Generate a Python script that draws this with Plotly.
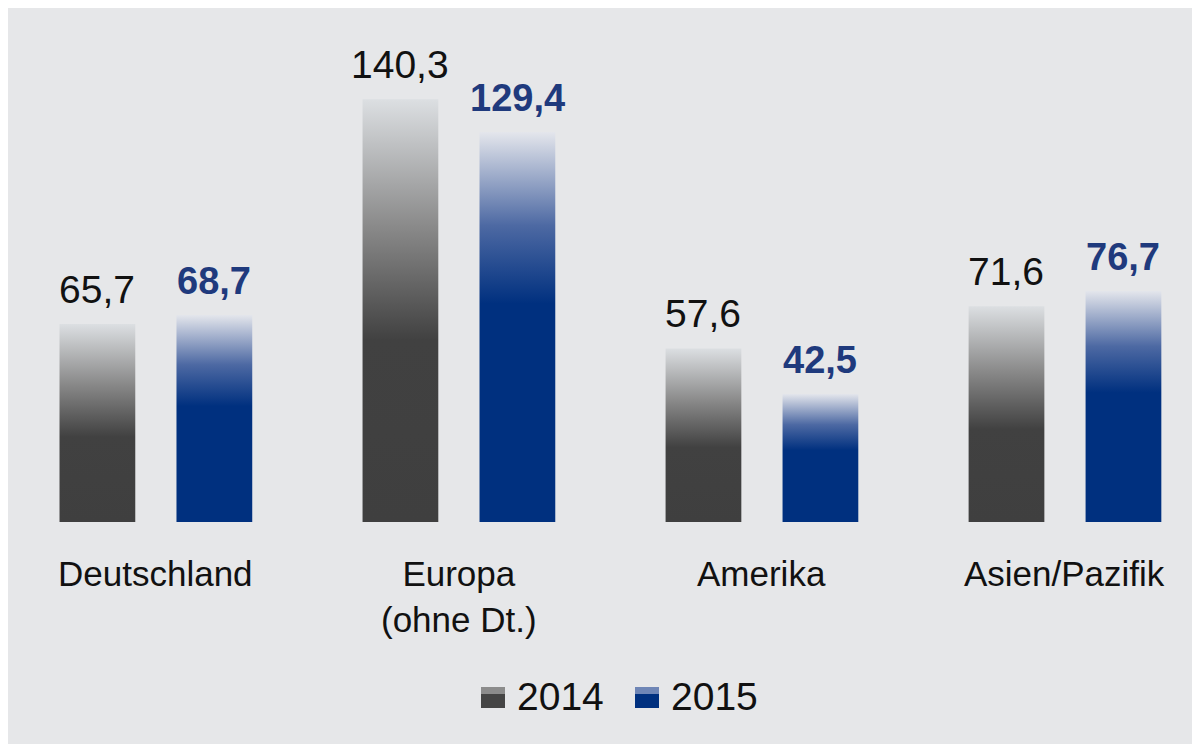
"""Grouped bar chart with gradient bars: 2014 vs 2015 by region."""

import plotly.graph_objects as go

# Data
regions = ["Deutschland", "Europa<br>(ohne Dt.)", "Amerika", "Asien/Pazifik"]
values_2014 = [65.7, 140.3, 57.6, 71.6]
values_2015 = [68.7, 129.4, 42.5, 76.7]
years = ["2014", "2015"]

# Styling
FONT = "Liberation Sans, Arial, sans-serif"
GRAY_SCALE = [[0, "#3f3f3f"], [0.43, "#414141"], [0.7, "#8a8a8a"], [1, "#dcdfe2"]]
BLUE_SCALE = [[0, "#00307f"], [0.56, "#00307f"], [0.76, "#4d69a3"], [1, "#e4e6ec"]]
OFFSET = 0.193
HALF_W = 0.125

# plot area in page pixels (figure sits 8px in from page corner)
PLOT_TOP, PLOT_BOTTOM = 62, 514
PLOT_H = PLOT_BOTTOM - PLOT_TOP


def py(page_y):
    """Page pixel row -> paper y coordinate."""
    return (PLOT_BOTTOM - page_y) / PLOT_H


fig = go.Figure()


def add_bar(x_center, value, scale):
    """Draw one bar as a filled polygon so it can carry a vertical gradient."""
    x0, x1 = x_center - HALF_W, x_center + HALF_W
    fig.add_trace(
        go.Scatter(
            x=[x0, x1, x1, x0, x0],
            y=[0, 0, value, value, 0],
            mode="lines",
            line=dict(width=0),
            fill="toself",
            fillgradient=dict(type="vertical", colorscale=scale),
            showlegend=False,
            hoverinfo="skip",
        )
    )


for i, (v14, v15) in enumerate(zip(values_2014, values_2015)):
    add_bar(i - OFFSET, v14, GRAY_SCALE)
    add_bar(i + OFFSET, v15, BLUE_SCALE)

    # Value labels above bars
    fig.add_annotation(
        x=i - OFFSET, y=v14, text=f"{v14:.1f}".replace(".", ","),
        showarrow=False, yanchor="bottom", yshift=11,
        font=dict(family=FONT, size=39, color="#111111"),
    )
    fig.add_annotation(
        x=i + OFFSET, y=v15, text=f"<b>{v15:.1f}</b>".replace(".", ","),
        showarrow=False, yanchor="bottom", yshift=11,
        font=dict(family=FONT, size=38, color="#1f3a7d"),
    )

    # Category labels below
    fig.add_annotation(
        x=i, y=0, text=regions[i], showarrow=False,
        yanchor="top", yshift=-30, align="center",
        font=dict(family=FONT, size=35, color="#111111"),
    )

# Custom legend
swatches = [
    (473, 497, ["#8c8c8c", "#454545"]),
    (627, 651, ["#6f86b6", "#00307f"]),
]
for (px0, px1, cols), label in zip(swatches, years):
    top, mid, bot = 679, 686, 700
    fig.add_shape(type="rect", xref="paper", yref="paper",
                  x0=px0 / 1200, x1=px1 / 1200, y0=py(mid), y1=py(top),
                  fillcolor=cols[0], line_width=0)
    fig.add_shape(type="rect", xref="paper", yref="paper",
                  x0=px0 / 1200, x1=px1 / 1200, y0=py(bot), y1=py(mid),
                  fillcolor=cols[1], line_width=0)
    fig.add_annotation(
        xref="paper", yref="paper", x=(px1 + 10) / 1200, y=py(688),
        text=label, showarrow=False, xanchor="left", yanchor="middle",
        font=dict(family=FONT, size=39, color="#111111"),
    )

fig.update_layout(
    width=1200,
    height=744,
    margin=dict(l=0, r=0, t=PLOT_TOP, b=744 - PLOT_BOTTOM),
    paper_bgcolor="#e6e7e9",
    plot_bgcolor="rgba(0,0,0,0)",
    showlegend=False,
    xaxis=dict(range=[-0.488, 3.472], visible=False, fixedrange=True),
    yaxis=dict(range=[0, 150], visible=False, fixedrange=True),
)

fig.write_html("out.html")
